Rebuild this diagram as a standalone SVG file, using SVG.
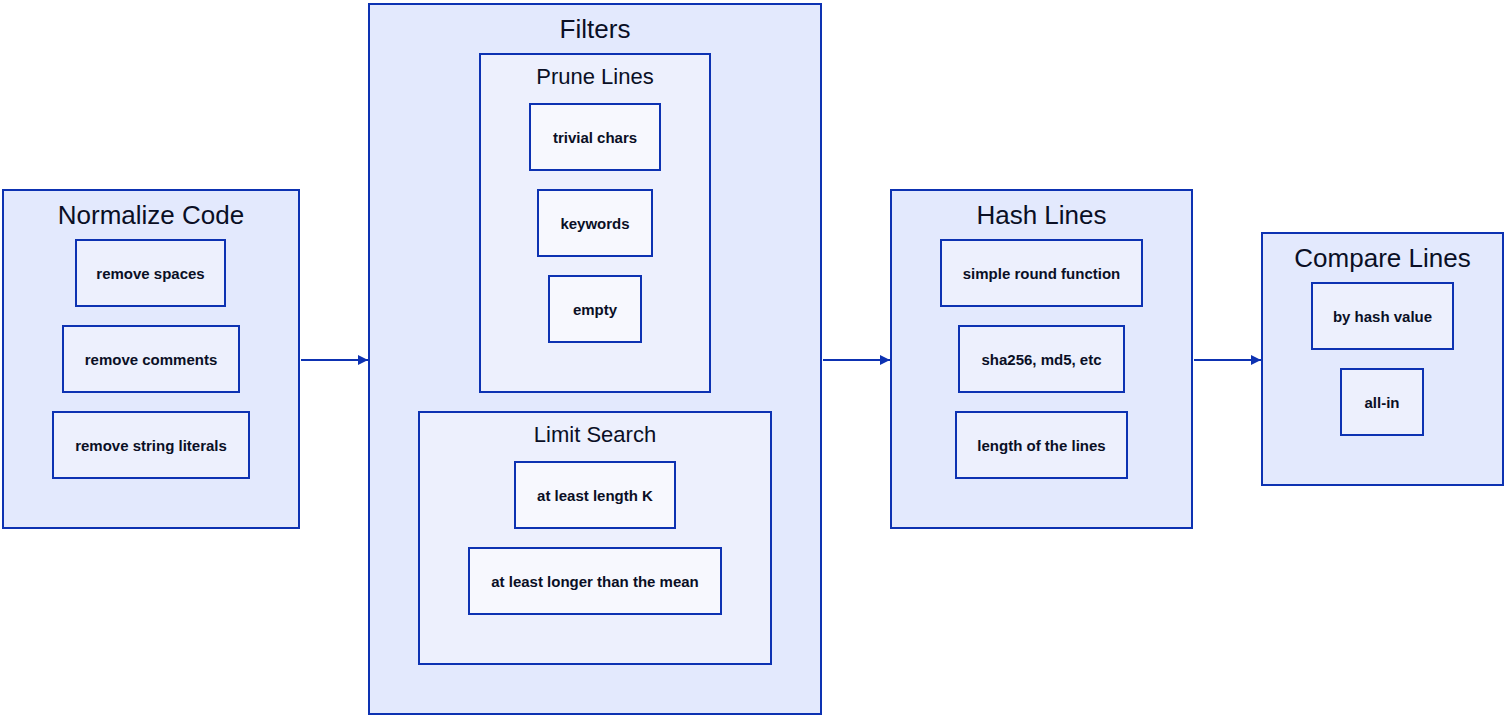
<svg xmlns="http://www.w3.org/2000/svg" width="1510" height="720" viewBox="0 0 1510 720">
<defs>
<style>
.c1{fill:#E3E9FD;stroke:#0D32B2;stroke-width:2}
.c2{fill:#EDF0FD;stroke:#0D32B2;stroke-width:2}
.c3{fill:#F7F8FE;stroke:#0D32B2;stroke-width:2}
.t1{font-family:"Liberation Sans",Arial,sans-serif;font-size:26px;fill:#0A0F25;text-anchor:middle}
.t2{font-family:"Liberation Sans",Arial,sans-serif;font-size:22px;fill:#0A0F25;text-anchor:middle}
.l{font-family:"Liberation Sans",Arial,sans-serif;font-size:15px;font-weight:bold;fill:#0A0F25;text-anchor:middle}
.e{stroke:#0D32B2;stroke-width:2;fill:none}
</style>
<marker id="ah" viewBox="0 0 10 10" refX="10" refY="5" markerWidth="5" markerHeight="5" orient="auto" markerUnits="strokeWidth">
<path d="M0,0 L10,5 L0,10 Z" fill="#0D32B2"/>
</marker>
</defs>
<rect width="1510" height="720" fill="#FFFFFF"/>

<g id="normalize">
<rect class="c1" x="3" y="190" width="296" height="338"/>
<text class="t1" x="151" y="224">Normalize Code</text>
<g id="remove-spaces"><rect class="c2" x="76" y="240" width="149" height="66"/><text class="l" x="150.5" y="279">remove spaces</text></g>
<g id="remove-comments"><rect class="c2" x="63" y="326" width="176" height="66"/><text class="l" x="151" y="365">remove comments</text></g>
<g id="remove-string-literals"><rect class="c2" x="53" y="412" width="196" height="66"/><text class="l" x="151" y="451">remove string literals</text></g>
</g>

<g id="filters">
<rect class="c1" x="369" y="4" width="452" height="710"/>
<text class="t1" x="595" y="38">Filters</text>
<g id="prune-lines">
<rect class="c2" x="480" y="54" width="230" height="338"/>
<text class="t2" x="595" y="84">Prune Lines</text>
<g id="trivial-chars"><rect class="c3" x="530" y="104" width="130" height="66"/><text class="l" x="595" y="143">trivial chars</text></g>
<g id="keywords"><rect class="c3" x="538" y="190" width="114" height="66"/><text class="l" x="595" y="229">keywords</text></g>
<g id="empty"><rect class="c3" x="549" y="276" width="92" height="66"/><text class="l" x="595" y="315">empty</text></g>
</g>
<g id="limit-search">
<rect class="c2" x="419" y="412" width="352" height="252"/>
<text class="t2" x="595" y="442">Limit Search</text>
<g id="at-least-length-k"><rect class="c3" x="515" y="462" width="160" height="66"/><text class="l" x="595" y="501">at least length K</text></g>
<g id="at-least-longer"><rect class="c3" x="469" y="548" width="252" height="66"/><text class="l" x="595" y="587">at least longer than the mean</text></g>
</g>
</g>

<g id="hash-lines">
<rect class="c1" x="891" y="190" width="301" height="338"/>
<text class="t1" x="1041.5" y="224">Hash Lines</text>
<g id="simple-round"><rect class="c2" x="941" y="240" width="201" height="66"/><text class="l" x="1041.5" y="279">simple round function</text></g>
<g id="sha256"><rect class="c2" x="959" y="326" width="165" height="66"/><text class="l" x="1041.5" y="365">sha256, md5, etc</text></g>
<g id="length-lines"><rect class="c2" x="956" y="412" width="171" height="66"/><text class="l" x="1041.5" y="451">length of the lines</text></g>
</g>

<g id="compare-lines">
<rect class="c1" x="1262" y="233" width="241" height="252"/>
<text class="t1" x="1382.5" y="267">Compare Lines</text>
<g id="by-hash-value"><rect class="c2" x="1312" y="283" width="141" height="66"/><text class="l" x="1382.5" y="322">by hash value</text></g>
<g id="all-in"><rect class="c2" x="1341" y="369" width="82" height="66"/><text class="l" x="1382" y="408">all-in</text></g>
</g>

<g id="connectors">
<path class="e" d="M301,360 L368,360" marker-end="url(#ah)"/>
<path class="e" d="M823,360 L890,360" marker-end="url(#ah)"/>
<path class="e" d="M1194,360 L1261,360" marker-end="url(#ah)"/>
</g>
</svg>
